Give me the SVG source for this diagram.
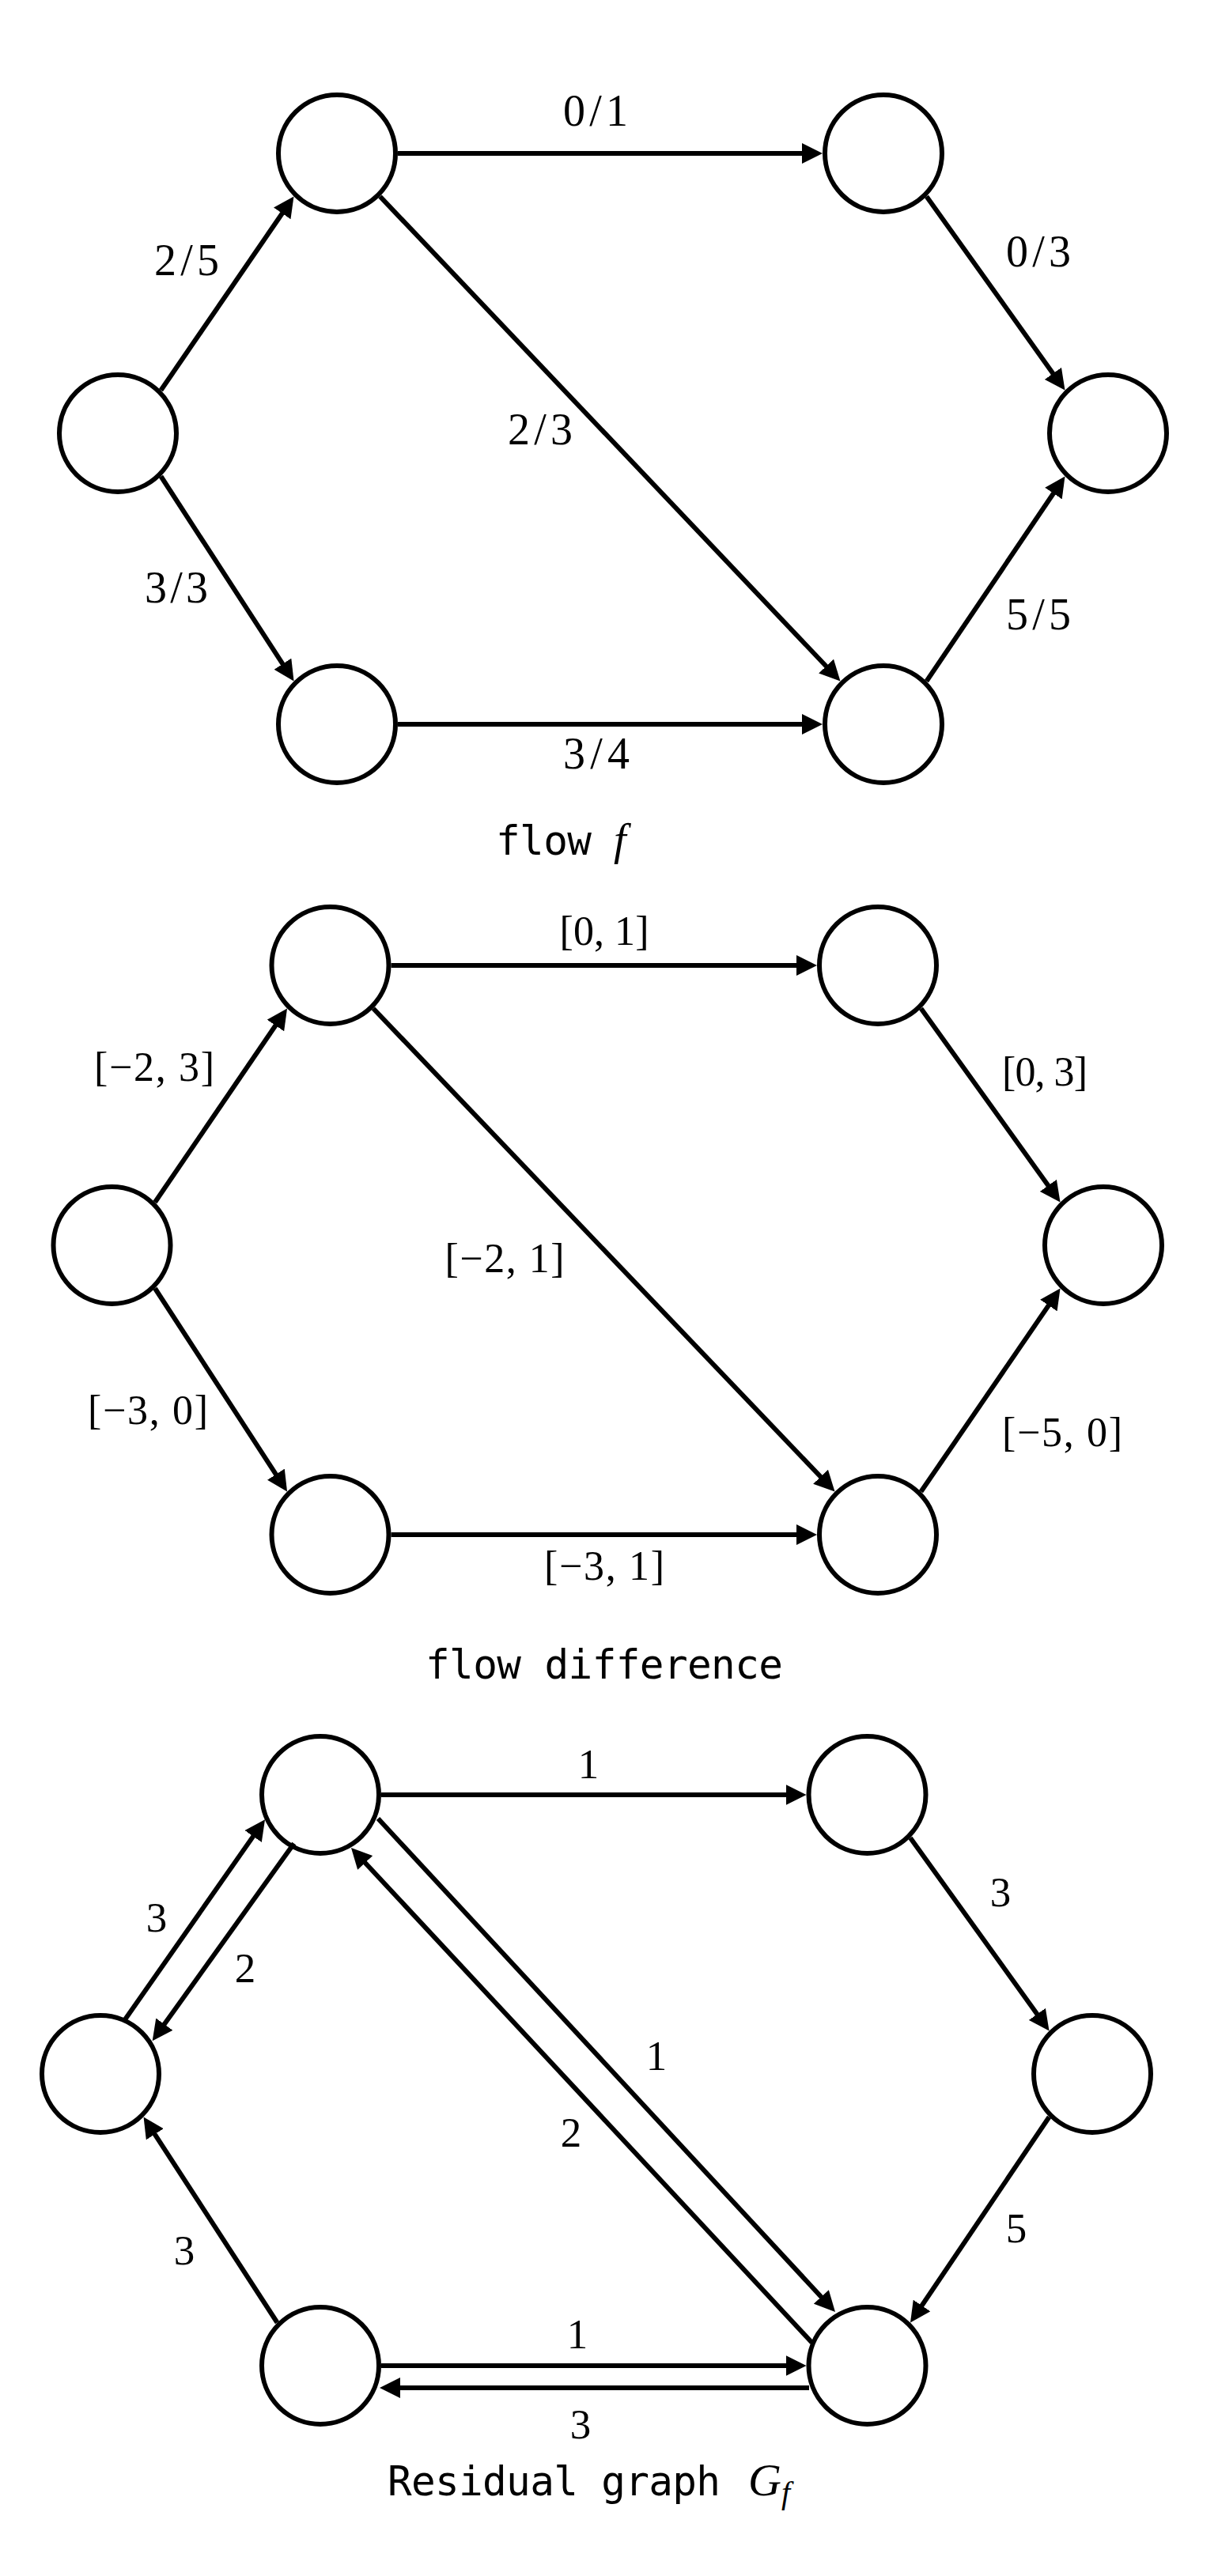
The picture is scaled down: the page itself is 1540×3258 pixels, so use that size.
<svg xmlns="http://www.w3.org/2000/svg" width="1540" height="3258" viewBox="0 0 1540 3258">
<style>
.n{fill:#fff;stroke:#000;stroke-width:6}
.e{fill:none;stroke:#000;stroke-width:6;marker-end:url(#ah)}
.l{font-family:"Liberation Serif",serif;fill:#000;text-anchor:middle}
.t{font-size:56px}
.md{font-size:52px}
.b{font-size:53px}
.c{font-family:"DejaVu Sans Mono",monospace;fill:#000;font-size:51px}
.m{font-family:"Liberation Serif",serif;font-style:italic;fill:#000}
</style>
<defs>
<marker id="ah" markerUnits="userSpaceOnUse" markerWidth="26" markerHeight="26" viewBox="0 0 26 26" refX="16" refY="13" orient="auto">
<path d="M0,0 L26,13 L0,26 Z" fill="#000"/>
</marker>
</defs>
<rect width="1540" height="3258" fill="#fff"/>

<!-- Graph 1: flow f -->
<g id="g1-nodes">
<g id="g1-A"><circle class="n" cx="149" cy="548" r="74"/></g>
<g id="g1-B"><circle class="n" cx="426" cy="194" r="74"/></g>
<g id="g1-C"><circle class="n" cx="1117" cy="194" r="74"/></g>
<g id="g1-D"><circle class="n" cx="1401" cy="548" r="74"/></g>
<g id="g1-E"><circle class="n" cx="426" cy="916" r="74"/></g>
<g id="g1-F"><circle class="n" cx="1117" cy="916" r="74"/></g>
</g>
<g id="g1-edges">
<line class="e" x1="203.5" y1="493.5" x2="365.8" y2="256.7"/>
<line class="e" x1="203.5" y1="602.5" x2="366.1" y2="853.1"/>
<line class="e" x1="503" y1="194" x2="1030" y2="194"/>
<line class="e" x1="480.5" y1="248.5" x2="1055.6" y2="854.2"/>
<line class="e" x1="1171.5" y1="248.5" x2="1340.7" y2="485.4"/>
<line class="e" x1="503" y1="916" x2="1030" y2="916"/>
<line class="e" x1="1171.5" y1="861.5" x2="1340.9" y2="610.8"/>
</g>
<g id="g1-labels">
<text class="l t" x="753" y="159" textLength="82">0/1</text>
<text class="l t" x="236" y="348" textLength="82">2/5</text>
<text class="l t" x="1313" y="337" textLength="82">0/3</text>
<text class="l t" x="683" y="562" textLength="82">2/3</text>
<text class="l t" x="223" y="762" textLength="80">3/3</text>
<text class="l t" x="1313" y="796" textLength="82">5/5</text>
<text class="l t" x="754" y="972" textLength="84">3/4</text>
</g>
<g id="caption1">
<text class="c" x="627" y="1081" textLength="121">flow</text>
<text class="m" x="776" y="1081" font-size="56">f</text>
</g>

<!-- Graph 2: flow difference -->
<g id="g2-nodes">
<g id="g2-A"><circle class="n" cx="141.5" cy="1575" r="74"/></g>
<g id="g2-B"><circle class="n" cx="417.5" cy="1221" r="74"/></g>
<g id="g2-C"><circle class="n" cx="1110" cy="1221" r="74"/></g>
<g id="g2-D"><circle class="n" cx="1395" cy="1575" r="74"/></g>
<g id="g2-E"><circle class="n" cx="417.5" cy="1941" r="74"/></g>
<g id="g2-F"><circle class="n" cx="1110" cy="1941" r="74"/></g>
</g>
<g id="g2-edges">
<line class="e" x1="196" y1="1520.5" x2="357.4" y2="1283.8"/>
<line class="e" x1="196" y1="1629.5" x2="357.6" y2="1878.1"/>
<line class="e" x1="494.5" y1="1221" x2="1023" y2="1221"/>
<line class="e" x1="472" y1="1275.5" x2="1048.6" y2="1879.3"/>
<line class="e" x1="1164.5" y1="1275.5" x2="1334.7" y2="1512.4"/>
<line class="e" x1="494.5" y1="1941" x2="1023" y2="1941"/>
<line class="e" x1="1164.5" y1="1886.5" x2="1334.9" y2="1637.8"/>
</g>
<g id="g2-labels">
<text class="l md" x="764" y="1195" textLength="113">[0, 1]</text>
<text class="l md" x="195" y="1367" textLength="152">[−2, 3]</text>
<text class="l md" x="1321" y="1373" textLength="108">[0, 3]</text>
<text class="l md" x="638" y="1609" textLength="151">[−2, 1]</text>
<text class="l md" x="187" y="1801" textLength="152">[−3, 0]</text>
<text class="l md" x="1343" y="1829" textLength="152">[−5, 0]</text>
<text class="l md" x="764" y="1998" textLength="152">[−3, 1]</text>
</g>
<g id="caption2">
<text class="c" x="538" y="2123" textLength="452">flow difference</text>
</g>

<!-- Graph 3: residual graph -->
<g id="g3-nodes">
<g id="g3-A"><circle class="n" cx="127" cy="2623" r="74"/></g>
<g id="g3-B"><circle class="n" cx="405" cy="2270" r="74"/></g>
<g id="g3-C"><circle class="n" cx="1096.5" cy="2270" r="74"/></g>
<g id="g3-D"><circle class="n" cx="1381" cy="2623" r="74"/></g>
<g id="g3-E"><circle class="n" cx="405" cy="2992" r="74"/></g>
<g id="g3-F"><circle class="n" cx="1096.5" cy="2992" r="74"/></g>
</g>
<g id="g3-edges">
<line class="e" x1="482" y1="2270" x2="1009.5" y2="2270"/>
<line class="e" x1="1151" y1="2324.5" x2="1320.7" y2="2560.4"/>
<line class="e" x1="1326.5" y1="2677.5" x2="1156.6" y2="2929.2"/>
<line class="e" x1="350.5" y1="2937.5" x2="187" y2="2685.9"/>
<line class="e" x1="157.3" y1="2555.3" x2="329.3" y2="2309.4"/>
<line class="e" x1="371.7" y1="2331.5" x2="198.5" y2="2573.1"/>
<line class="e" x1="478" y1="2300" x2="1049.2" y2="2916.7"/>
<line class="e" x1="1026.5" y1="2962.7" x2="450.8" y2="2344.3"/>
<line class="e" x1="482" y1="2992" x2="1009.5" y2="2992"/>
<line class="e" x1="1023" y1="3020" x2="490" y2="3020"/>
</g>
<g id="g3-labels">
<text class="l b" x="744" y="2249">1</text>
<text class="l b" x="1265" y="2411">3</text>
<text class="l b" x="198" y="2443">3</text>
<text class="l b" x="310" y="2507">2</text>
<text class="l b" x="830" y="2618">1</text>
<text class="l b" x="722" y="2715">2</text>
<text class="l b" x="1285" y="2836">5</text>
<text class="l b" x="233" y="2864">3</text>
<text class="l b" x="730" y="2970">1</text>
<text class="l b" x="734" y="3084">3</text>
</g>
<g id="caption3">
<text class="c" x="490" y="3156" textLength="421">Residual graph</text>
<text class="m" x="946" y="3156" font-size="58">G<tspan font-size="40" dy="10">f</tspan></text>
</g>
</svg>
